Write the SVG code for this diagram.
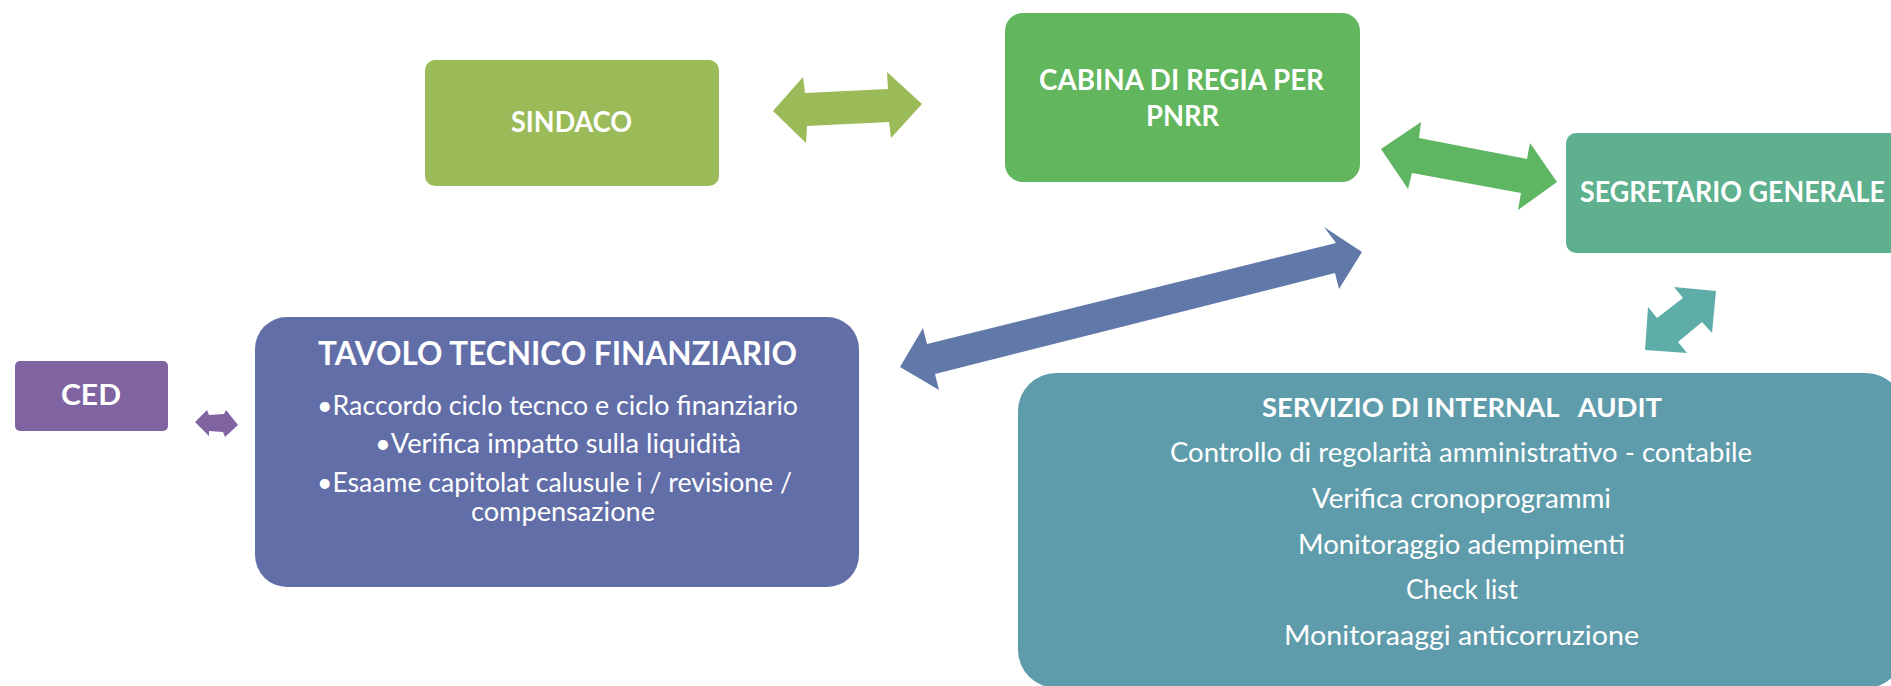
<svg xmlns="http://www.w3.org/2000/svg" width="1891" height="686" viewBox="0 0 1891 686">
<style>
text{fill:#ffffff;font-family:Lato,"Open Sans","Liberation Sans",sans-serif;}
.b{font-weight:700;font-size:28.5px;}
.r{font-weight:400;font-size:26px;}
</style>
<rect width="1891" height="686" fill="#ffffff"/>
<g id="connectors">
<polygon fill="#9BBB59" points="773,111 803,77 805,93 888,89 887,72 922,104 891,138 889,122 807,126 806,143"/>
<polygon fill="#5EB562" points="1381,149 1421,122 1419,138 1527,159 1530,143 1557,182 1518,210 1521,193 1412,173 1408,189"/>
<polygon fill="#6079A8" points="900,367 923,328 927,344 1336,243 1324,227 1362,252 1339,289 1335,273 935,374 939,390"/>
<polygon fill="#5EADA8" points="1674,287 1716,291 1712,333 1702,322 1678,342 1687,353 1645,350 1648,307 1657,318 1683,298"/>
<polygon fill="#8064A2" points="195,422 207,410 209,415 224,414 226,410 238,425 225,437 223,432 209,431 209,436"/>
</g>
<g id="sindaco">
<rect x="425" y="60" width="294" height="126" rx="10" fill="#9BBB59"/>
<text class="b" x="511" y="132" textLength="121" lengthAdjust="spacingAndGlyphs">SINDACO</text>
</g>
<g id="cabina">
<rect x="1005" y="13" width="355" height="169" rx="18" fill="#61B65E"/>
<text class="b" x="1039" y="90" textLength="285" lengthAdjust="spacingAndGlyphs">CABINA DI REGIA PER</text>
<text class="b" x="1146" y="126" textLength="73" lengthAdjust="spacingAndGlyphs">PNRR</text>
</g>
<g id="segretario">
<rect x="1566" y="133" width="338" height="120" rx="10" fill="#5EB08F"/>
<text class="b" x="1580" y="202" textLength="305" lengthAdjust="spacingAndGlyphs">SEGRETARIO GENERALE</text>
</g>
<g id="ced">
<rect x="15" y="361" width="153" height="70" rx="5" fill="#8064A2"/>
<text class="b" x="61" y="405" style="font-size:29px" textLength="60" lengthAdjust="spacingAndGlyphs">CED</text>
</g>
<g id="tavolo">
<rect x="255" y="317" width="604" height="270" rx="32" fill="#626EA8"/>
<text class="b" x="318" y="365" style="font-size:32px" textLength="479" lengthAdjust="spacingAndGlyphs">TAVOLO TECNICO FINANZIARIO</text>
<text class="r" x="317" y="415" textLength="481" lengthAdjust="spacingAndGlyphs">•Raccordo ciclo tecnco e ciclo finanziario</text>
<text class="r" x="375" y="453" textLength="366" lengthAdjust="spacingAndGlyphs">•Verifica impatto sulla liquidità</text>
<text class="r" x="317" y="492" textLength="475" lengthAdjust="spacingAndGlyphs">•Esaame capitolat calusule i / revisione /</text>
<text class="r" x="471" y="521" textLength="184" lengthAdjust="spacingAndGlyphs">compensazione</text>
</g>
<g id="servizio">
<rect x="1018" y="373" width="886" height="315" rx="38" fill="#5F9CAB"/>
<text class="b" x="1262" y="417" style="font-size:26.5px" xml:space="preserve" textLength="400" lengthAdjust="spacingAndGlyphs">SERVIZIO DI INTERNAL   AUDIT</text>
<text class="r" x="1170" y="462" textLength="582" lengthAdjust="spacingAndGlyphs">Controllo di regolarità amministrativo - contabile</text>
<text class="r" x="1312" y="508" textLength="299" lengthAdjust="spacingAndGlyphs">Verifica cronoprogrammi</text>
<text class="r" x="1298" y="554" textLength="327" lengthAdjust="spacingAndGlyphs">Monitoraggio adempimenti</text>
<text class="r" x="1406" y="599" textLength="112" lengthAdjust="spacingAndGlyphs">Check list</text>
<text class="r" x="1284" y="645" textLength="355" lengthAdjust="spacingAndGlyphs">Monitoraaggi anticorruzione</text>
</g>
</svg>
